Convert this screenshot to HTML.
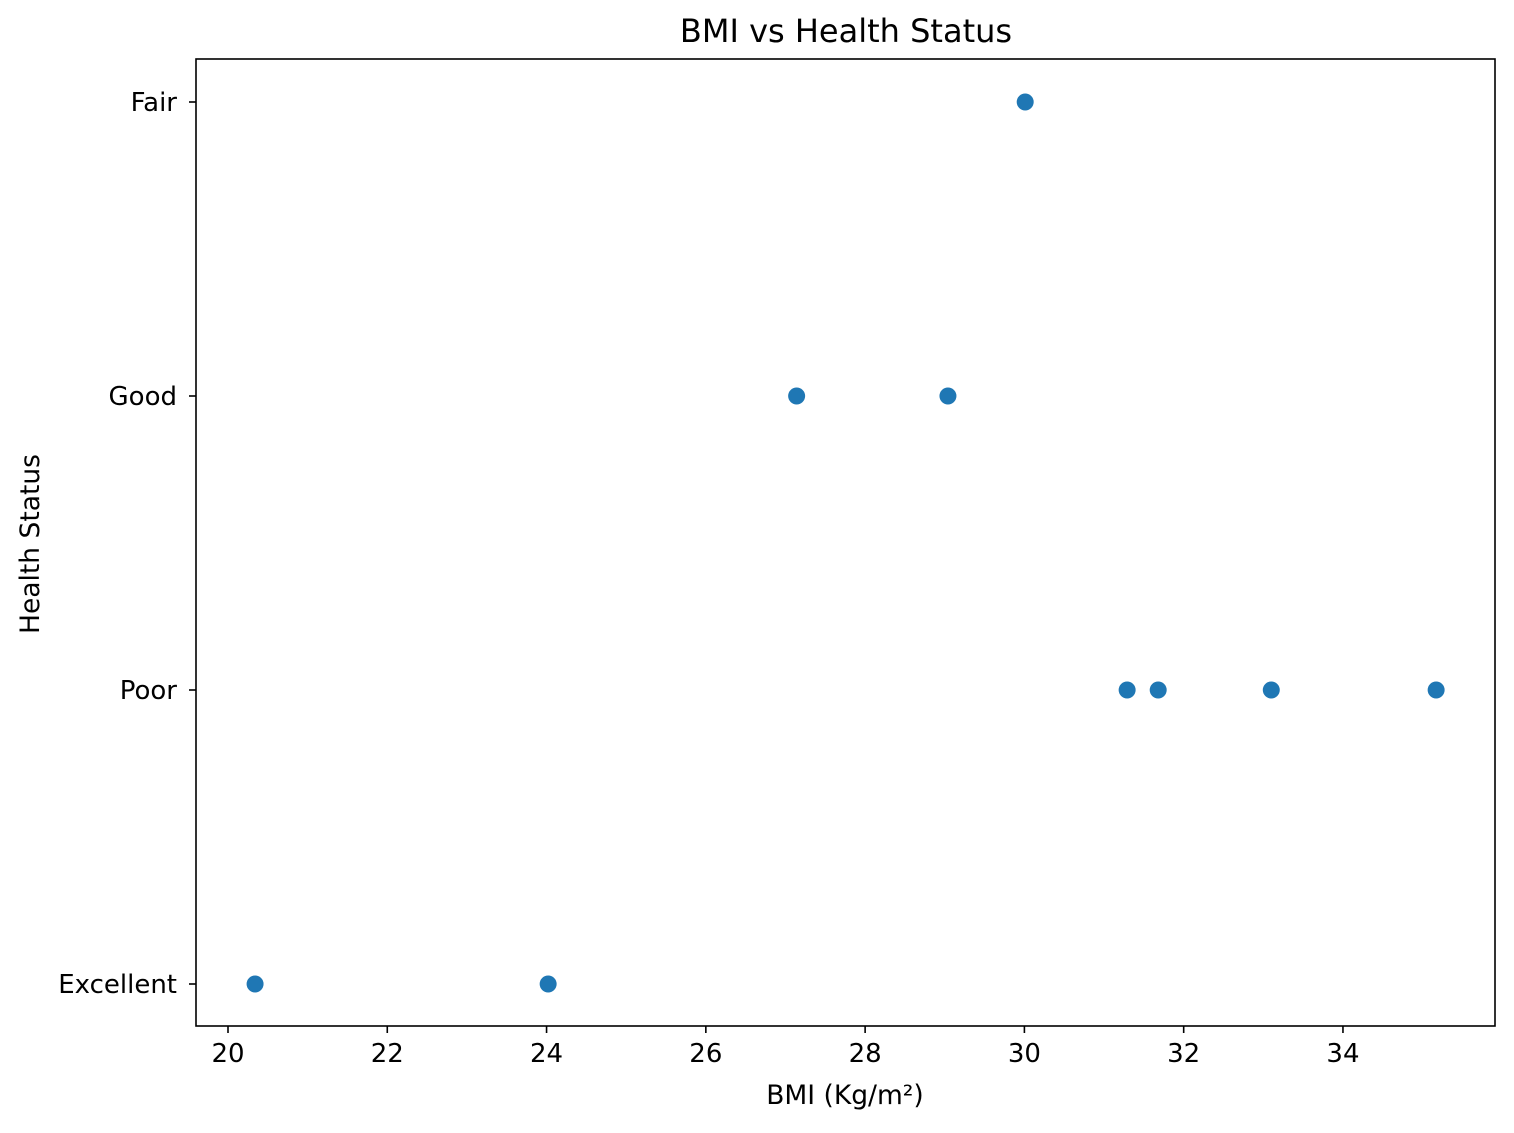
<!DOCTYPE html>
<html><head><meta charset="utf-8"><style>
body{margin:0;background:#fff;font-family:"Liberation Sans","DejaVu Sans",sans-serif}
text{font-family:"DejaVu Sans","Liberation Sans",sans-serif}
</style></head><body>
<svg id="chart" width="1514" height="1128" xmlns="http://www.w3.org/2000/svg">
<rect width="1514" height="1128" fill="#fff"/>
<text x="846" y="42" font-size="32" text-anchor="middle">BMI vs Health Status</text>
<text x="845" y="1104" font-size="26.5" text-anchor="middle">BMI (Kg/m²)</text>
<text transform="translate(39,544) rotate(-90)" font-size="26.5" text-anchor="middle">Health Status</text>
<g id="axes"></g>
<g id="points"></g>
<rect x="196" y="59" width="1299" height="967" fill="none" stroke="#000" stroke-width="1.6"/>
</svg>
<script>
const categories = ["Excellent","Poor","Good","Fair"];
const bmiValues = [20.34, 24.02, 27.14, 29.04, 30.01, 31.29, 31.68, 33.10, 35.17];
const statusValues = ["Excellent","Excellent","Good","Good","Fair","Poor","Poor","Poor","Poor"];
const xTicks = [20,22,24,26,28,30,32,34];
const NS="http://www.w3.org/2000/svg";
const xs = v => 228 + (v-20)*79.64;
const ys = c => 984 - categories.indexOf(c)*294;
const axes=document.getElementById('axes'), pts=document.getElementById('points');
function mk(tag,attrs,parent){const e=document.createElementNS(NS,tag);for(const k in attrs)e.setAttribute(k,attrs[k]);parent.appendChild(e);return e;}
xTicks.forEach(t=>{
  const x=xs(t);
  const l=mk('line',{x1:x,x2:x,y1:1026,y2:1033,stroke:'#000','stroke-width':1.6},axes);
  
  
  const tx=mk('text',{x:x,y:1062,'font-size':26,'text-anchor':'middle'},axes);
  tx.textContent=t;
  
  
});
categories.forEach(c=>{
  const y=ys(c);
  const l=mk('line',{x1:189,x2:196,y1:y,y2:y,stroke:'#000','stroke-width':1.6},axes);
  
  
  const tx=mk('text',{x:177,y:y+9,'font-size':26,'text-anchor':'end'},axes);
  tx.textContent=c;
  
  
});
bmiValues.forEach((v,i)=>{
  const p=mk('circle',{cx:xs(v),cy:ys(statusValues[i]),r:8.5,fill:'#1f77b4'},pts);
  
  
});
</script>
</body></html>
